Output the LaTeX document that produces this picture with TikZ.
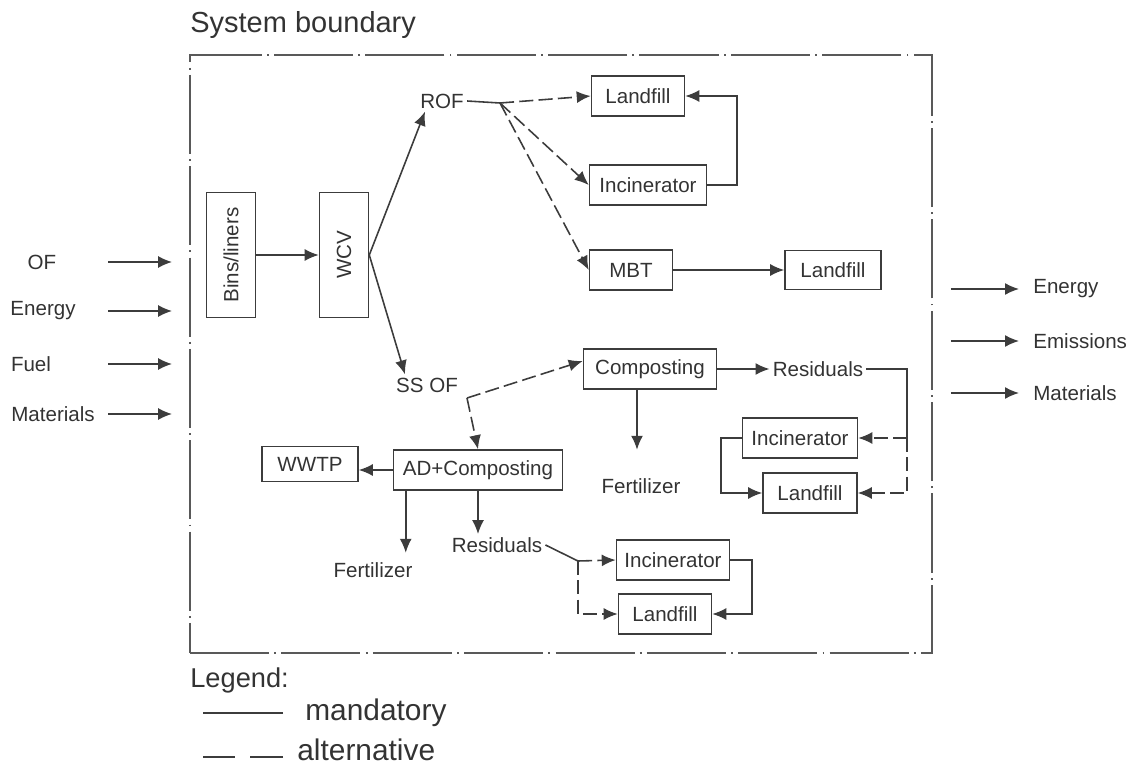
\documentclass[tikz,border=0pt]{standalone}
\usepackage{fontspec}
\setmainfont{Liberation Sans}
\usetikzlibrary{arrows.meta,calc}
\definecolor{ink}{HTML}{333333}
\definecolor{linegray}{HTML}{3C3C3C}
\tikzset{
  unit/.style={draw=linegray, line width=0.9pt, minimum height=0.8cm, inner xsep=0.15cm, text=ink, font=\fontsize{11.7}{13}\selectfont},
  lbl/.style={text=ink, font=\fontsize{11.7}{13}\selectfont, inner sep=0.06cm},
  wire/.style={draw=linegray, line width=0.9pt},
  flow/.style={wire, -{Latex[length=0.28cm,width=0.24cm]}},
  altflow/.style={flow, dash pattern=on 8pt off 3pt},
}

\begin{document}
\begin{tikzpicture}[x=0.02cm, y=-0.02cm]
			\useasboundingbox (0,0) rectangle (1134,767);
			
			% boundary
			\node[anchor=west, inner sep=0, text=ink, font=\fontsize{16.5}{18}\selectfont] (sysb) at (190,25) {System boundary};
			\node[draw=linegray!85, line width=1.1pt, dash pattern=on 45pt off 3pt on 1pt off 3pt, minimum width=14.84cm, minimum height=11.96cm, inner sep=0] (bnd) at (561,354) {};
			
			% inputs
			\node[lbl] (inof) at (42,262) {OF};
			\node[lbl] (inen) at (43,311) {Energy};
			\node[lbl] (infu) at (31,364) {Fuel};
			\node[lbl] (inma) at (53,414) {Materials};
			\coordinate (instart) at (108,0);
			\draw[flow] (inof -| instart) -- ([xshift=-0.34cm]inof -| bnd.west);
			\draw[flow] (inen -| instart) -- ([xshift=-0.34cm]inen -| bnd.west);
			\draw[flow] (infu -| instart) -- ([xshift=-0.34cm]infu -| bnd.west);
			\draw[flow] (inma -| instart) -- ([xshift=-0.34cm]inma -| bnd.west);
			
			% outputs
			\node[lbl, anchor=west] (outen) at (1030,289) {Energy};
			\node[lbl, anchor=west] (outem) at (1030,341) {Emissions};
			\node[lbl, anchor=west] (outma) at (1030,393) {Materials};
			\draw[flow] ([xshift=0.36cm]outen.west -| bnd.east) -- ([xshift=-0.22cm]outen.west);
			\draw[flow] ([xshift=0.36cm]outem.west -| bnd.east) -- ([xshift=-0.22cm]outem.west);
			\draw[flow] ([xshift=0.36cm]outma.west -| bnd.east) -- ([xshift=-0.22cm]outma.west);
			
			% collection
			\node[unit, minimum width=0.98cm, minimum height=2.5cm, inner sep=0] (bins) at (231,255) {\rotatebox{90}{Bins/liners}};
			\node[unit, minimum width=0.98cm, minimum height=2.5cm, inner sep=0] (wcv) at (344,255) {\rotatebox{90}{WCV}};
			\node[lbl] (rof) at (442,101) {ROF};
			\node[lbl] (ssof) at (427,385) {SS OF};
			\draw[flow] (bins.east) -- (wcv.west);
			\draw[flow] (wcv.east) -- ([xshift=-0.34cm]rof.south);
			\draw[flow] (wcv.east) -- ([xshift=-0.44cm]ssof.north);
			
			% residual organic fraction
			\node[unit, minimum width=1.86cm] (lfa) at (638,96) {Landfill};
			\node[unit, minimum width=2.34cm] (inca) at (648,185) {Incinerator};
			\node[unit, minimum width=1.66cm] (mbt) at (631,270) {MBT};
			\node[unit, minimum width=1.92cm, minimum height=0.78cm] (lfb) at (833,270) {Landfill};
			\coordinate (rofj) at (500,103);
			\draw[wire] (rof.east) -- (rofj);
			\draw[altflow] (rofj) -- (lfa.west);
			\draw[altflow] (rofj) -- (inca.west);
			\draw[altflow] (rofj) -- (mbt.west);
			\draw[flow] (inca.east) -- ++(30,0) |- (lfa.east);
			\draw[flow] (mbt.east) -- (lfb.west);
			
			% composting
			\node[unit, minimum width=2.66cm] (comp) at (650,369) {Composting};
			\node[lbl] (resa) at (818,369) {Residuals};
			\node[lbl] (ferta) at (641,486) {Fertilizer};
			\node[unit, minimum width=2.3cm] (incb) at (800,438) {Incinerator};
			\node[unit, minimum width=1.88cm] (lfc) at (810,493) {Landfill};
			\coordinate (ssj) at (467,398);
			\draw[altflow] (ssj) -- ([yshift=0.16cm]comp.west);
			\draw[flow] (comp.east) -- (resa.west);
			\draw[flow] ([xshift=-0.26cm]comp.south) -- ++(0,60);
			\coordinate (resbus) at (907,438);
			\draw[wire] (resa.east) -| (resbus);
			\draw[altflow] (resbus) -- (incb.east);
			\draw[altflow] (resbus) |- (lfc.east);
			\draw[flow] (incb.west) -- ++(-21,0) |- (lfc.west);
			
			% anaerobic digestion
			\node[unit, minimum width=1.92cm, minimum height=0.7cm] (wwtp) at (310,464) {WWTP};
			\node[unit, minimum width=3.38cm] (ad) at (478,470) {AD+Composting};
			\node[lbl] (fertb) at (373,570) {Fertilizer};
			\node[lbl] (resb) at (497,545) {Residuals};
			\node[unit, minimum width=2.26cm] (incc) at (673,560) {Incinerator};
			\node[unit, minimum width=1.86cm] (lfd) at (665,614) {Landfill};
			\draw[altflow] (ssj) -- (ad.north);
			\draw[flow] (ad.west) -- (ad.west -| wwtp.east);
			\draw[flow] ([xshift=0.26cm]ad.south west) -- ++(0,62);
			\draw[flow] (ad.south) -- (ad.south |- resb.north);
			\coordinate (resj) at (578,561);
			\draw[wire] (resb.east) -- (resj);
			\draw[altflow] (resj) -- (incc.west);
			\draw[altflow] (resj) |- (lfd.west);
			\draw[flow] (incc.east) -- ++(22,0) |- (lfd.east);
			
			% legend
			\node[anchor=west, inner sep=0, text=ink, font=\fontsize{15.5}{17}\selectfont] (leg) at (190,680) {Legend:};
			\node[anchor=west, inner sep=0, text=ink, font=\fontsize{17}{19}\selectfont] (mand) at (305,713) {mandatory};
			\node[anchor=west, inner sep=0, text=ink, font=\fontsize{17}{19}\selectfont] (altn) at (297,750) {alternative};
			\draw[wire, line width=1.1pt] ([xshift=-0.44cm]mand.west) -- ++(-80,0);
			\draw[wire, line width=1.1pt, dash pattern=on 19pt off 8.5pt] ([xshift=-0.28cm, yshift=-0.14cm]altn.west) -- ++(-80,0);
			
\end{tikzpicture}
\end{document}
